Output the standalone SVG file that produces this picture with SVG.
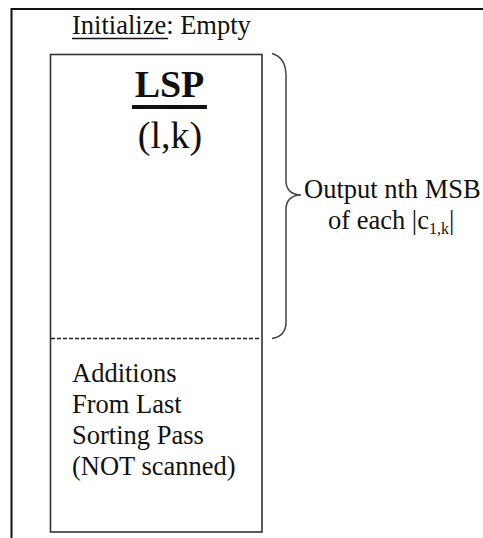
<svg xmlns="http://www.w3.org/2000/svg" width="483" height="538" viewBox="0 0 483 538">
  <style>
    text { font-family: 'Liberation Serif', 'Times New Roman', serif; fill: #111; }
    .t { font-size: 26.5px; }
    .big { font-size: 38px; }
    .frame { fill: none; stroke: #111; stroke-width: 2; }
    .box { fill: #fff; stroke: #333; stroke-width: 1.6; }
    .dash { stroke: #222; stroke-width: 1.3; stroke-dasharray: 4 2; }
    .brace { fill: none; stroke: #444; stroke-width: 1.5; }
  </style>

  <!-- outer frame (open on the right and bottom) -->
  <path class="frame" d="M11.5,538 L11.5,9 L483,9"/>

  <!-- header -->
  <g id="init-label">
    <text class="t" x="72" y="34" font-size="27">Initialize: Empty</text>
    <line x1="72" y1="38.5" x2="168" y2="38.5" stroke="#111" stroke-width="1.3"/>
  </g>

  <!-- LSP list box -->
  <g id="lsp">
    <rect class="box" x="50.5" y="54.5" width="211.5" height="477.5"/>
    <text class="big" x="169.5" y="97" text-anchor="middle" font-weight="bold">LSP</text>
    <line x1="132" y1="107" x2="207" y2="107" stroke="#111" stroke-width="4"/>
    <text class="big" x="170" y="148" text-anchor="middle">(l,k)</text>
    <line class="dash" x1="51" y1="338.5" x2="261" y2="338.5"/>
    <text class="t" x="72" y="382">Additions</text>
    <text class="t" x="72" y="413">From Last</text>
    <text class="t" x="72" y="444">Sorting Pass</text>
    <text class="t" x="72" y="475">(NOT scanned)</text>
  </g>

  <!-- brace spanning the scanned part of the list -->
  <g id="connectors">
    <path class="brace" d="M272,53.5 C281,56 286,63 286,76 L286,181 C286,190 292,195 301,195 C292,195 286,200 286,209 L286,322 C286,332 281,337 272,338.5"/>
  </g>

  <g id="output-label">
    <text class="t" x="304" y="198" font-size="25.6">Output nth MSB</text>
    <text class="t" x="328" y="229" font-size="25.6">of each |c<tspan font-size="16" dy="5">1,k</tspan><tspan dy="-5">|</tspan></text>
  </g>
</svg>
